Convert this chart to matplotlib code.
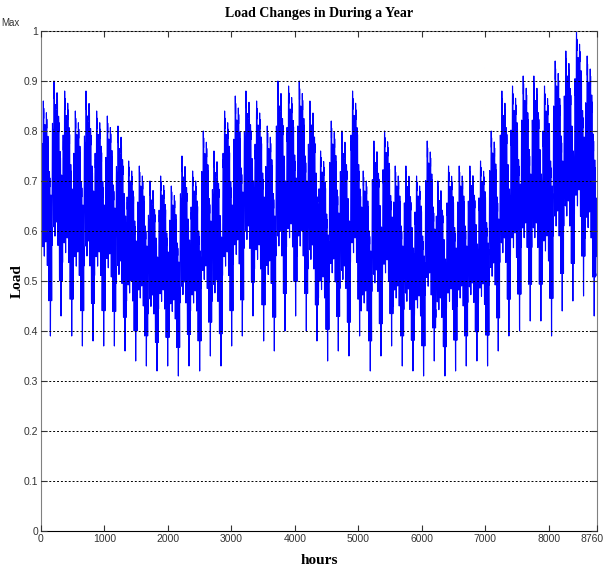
import numpy as np
import matplotlib
matplotlib.use("Agg")
import matplotlib.pyplot as plt
from matplotlib.transforms import ScaledTranslation

# weekly peak and trough levels (52 full weeks + last day)
week_peak = [0.86, 0.90, 0.88, 0.84, 0.88, 0.84, 0.83, 0.81, 0.74, 0.73,
             0.70, 0.71, 0.69, 0.75, 0.72, 0.80, 0.76, 0.84, 0.87, 0.88,
             0.86, 0.81, 0.90, 0.89, 0.90, 0.86, 0.76, 0.82, 0.80, 0.88,
             0.72, 0.78, 0.80, 0.73, 0.73, 0.71, 0.78, 0.70, 0.73, 0.73,
             0.73, 0.74, 0.80, 0.88, 0.89, 0.91, 0.91, 0.89, 0.94, 0.96,
             1.00, 0.95, 0.72]
week_low = [0.39, 0.43, 0.39, 0.37, 0.38, 0.37, 0.37, 0.36, 0.34, 0.33,
            0.32, 0.33, 0.31, 0.33, 0.32, 0.35, 0.33, 0.37, 0.39, 0.43,
            0.38, 0.36, 0.40, 0.43, 0.40, 0.38, 0.34, 0.36, 0.35, 0.39,
            0.32, 0.35, 0.37, 0.33, 0.32, 0.31, 0.34, 0.31, 0.32, 0.33,
            0.34, 0.33, 0.36, 0.39, 0.40, 0.42, 0.42, 0.39, 0.44, 0.46,
            0.47, 0.43, 0.42]

# typical daily shape (0 = night minimum, 1 = daily maximum)
day_shape = [0.15, 0.08, 0.03, 0.00, 0.02, 0.10, 0.30, 0.55, 0.75, 0.85,
             0.90, 0.95, 1.00, 0.97, 0.93, 0.90, 0.88, 0.90, 0.95, 0.92,
             0.80, 0.60, 0.40, 0.25]
# day-of-week levels as fraction of (peak - trough)
day_top = [0.82, 1.00, 0.90, 0.95, 0.85, 0.70, 0.60]
day_bottom = [0.30, 0.38, 0.34, 0.40, 0.30, 0.15, 0.00]

xticks = [0, 1000, 2000, 3000, 4000, 5000, 6000, 7000, 8000, 8760]
yticks = [0, 0.1, 0.2, 0.3, 0.4, 0.5, 0.6, 0.7, 0.8, 0.9, 1]
ylabels = ['0', '0.1', '0.2', '0.3', '0.4', '0.5', '0.6', '0.7', '0.8', '0.9', '1']

hours = np.arange(1, 8761)
load = np.zeros(8760)
for i in range(8760):
    w = i // 168
    d = (i // 24) % 7
    h = i % 24
    P, T = week_peak[w], week_low[w]
    f = day_bottom[d] + (day_top[d] - day_bottom[d]) * day_shape[h]
    load[i] = T + (P - T) * f

fig = plt.figure(figsize=(6.06, 5.72), dpi=100)
ax = fig.add_axes([41/606, 41/572, 556/606, 500/572])

ax.plot(hours, load, color='#0000ff', linewidth=0.8)

ax.set_xlim(0, 8760)
ax.set_ylim(0, 1)
ax.set_xticks(xticks)
ax.set_yticks(yticks)
ax.set_yticklabels(ylabels)
ax.tick_params(direction='in', length=4, top=True, right=True,
               labelsize=7.5, colors='#333333', pad=2)
for lab in ax.get_xticklabels() + ax.get_yticklabels():
    lab.set_family(['Liberation Sans Narrow', 'Liberation Sans'])
# keep the last x label inside the figure
last = ax.get_xticklabels()[-1]
last.set_transform(last.get_transform() + ScaledTranslation(-5/100, 0, fig.dpi_scale_trans))

ax.grid(axis='y', color='black', linestyle=(0, (2, 2)), linewidth=0.7)
ax.set_axisbelow(False)
for s in ['left', 'top', 'right']:
    ax.spines[s].set_color('#808080')
ax.spines['bottom'].set_color('black')

ax.set_title('Load Changes in During a Year', family='Liberation Serif',
             fontweight='bold', fontsize=10, pad=10)
ax.set_xlabel('hours', family='Liberation Serif', fontweight='bold',
              fontsize=11, labelpad=7)
ax.set_ylabel('Load', family='Liberation Serif', fontweight='bold',
              fontsize=11, labelpad=0)
ax.text(-0.038, 1.005, 'Max', transform=ax.transAxes, ha='right', va='bottom',
        fontsize=7, color='#333333', family=['Liberation Sans Narrow', 'Liberation Sans'])

fig.savefig('out.png', dpi=100)
